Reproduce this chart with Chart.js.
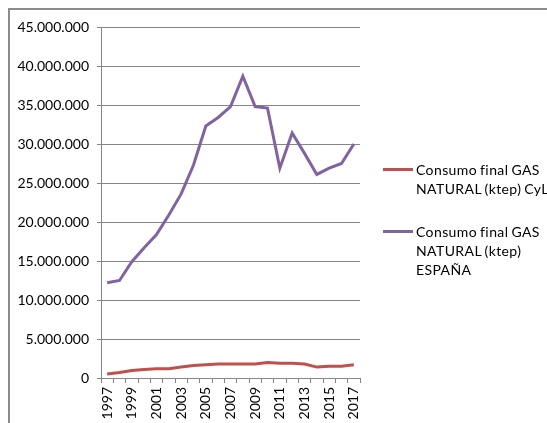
<!DOCTYPE html>
<html lang="es">
<head>
    <meta charset="UTF-8">
    <title>Consumo final gas natural</title>
    <script src="https://cdn.jsdelivr.net/npm/chart.js@4.4.0/dist/chart.umd.min.js"></script>
    <style>
        body { margin: 0; background: #fff; }
        #wrap { position: relative; width: 547px; height: 423px; overflow: hidden; }
        #frame { position: absolute; left: 8px; top: 8px; width: 600px; height: 500px; border: 2px solid #8c8c8c; }
        #grafico { position: absolute; left: 0; top: 0; }
        .leyenda { position: absolute; left: 383px; font-family: Lato, "Open Sans", sans-serif; font-size: 14px; letter-spacing: 0.4px; word-spacing: -1px; line-height: 19px; color: #000; }
        .leyenda .linea { position: absolute; left: 0; top: 8px; width: 30px; height: 3px; }
        .leyenda .txt { position: absolute; left: 33px; white-space: nowrap; }
    </style>
</head>
<body>
<div id="wrap">
    <div id="frame"></div>
    <canvas id="grafico" width="547" height="423"></canvas>
    <div class="leyenda" id="ley1" style="top:160px"><div class="linea"></div><div class="txt"></div></div>
    <div class="leyenda" id="ley2" style="top:222px"><div class="linea"></div><div class="txt"></div></div>
</div>
<script>
    // años
    var anios = ['1997','1998','1999','2000','2001','2002','2003','2004','2005','2006','2007',
                 '2008','2009','2010','2011','2012','2013','2014','2015','2016','2017'];
    // consumo final GAS NATURAL (ktep) CyL
    var cyl = [500000, 700000, 950000, 1100000, 1200000, 1200000, 1400000, 1600000, 1700000, 1800000, 1800000,
               1800000, 1800000, 2000000, 1900000, 1900000, 1800000, 1400000, 1500000, 1500000, 1700000];
    // consumo final GAS NATURAL (ktep) ESPAÑA
    var espana = [12200000, 12500000, 14900000, 16700000, 18400000, 20900000, 23600000, 27300000, 32300000, 33400000, 34800000,
                  38700000, 34800000, 34600000, 26900000, 31400000, 28800000, 26100000, 26900000, 27500000, 30000000];
    var nombres = [['Consumo final GAS', 'NATURAL (ktep) CyL'], ['Consumo final GAS', 'NATURAL (ktep)', 'ESPAÑA']];
    var colores = ['#c0504d', '#8064a2'];

    var fuente = 'Lato, "Open Sans", sans-serif';

    // leyenda en html
    ['ley1','ley2'].forEach(function(id, i){
        var el = document.getElementById(id);
        el.querySelector('.linea').style.background = colores[i];
        el.querySelector('.txt').innerHTML = nombres[i].join('<br>');
    });

    var ctx = document.getElementById('grafico').getContext('2d');
    var chart = new Chart(ctx, {
        type: 'line',
        data: {
            labels: anios,
            datasets: [
                {
                    label: nombres[0].join(' '),
                    data: cyl,
                    borderColor: colores[0],
                    backgroundColor: colores[0],
                    borderWidth: 3,
                    pointRadius: 0,
                    tension: 0,
                    fill: false
                },
                {
                    label: nombres[1].join(' '),
                    data: espana,
                    borderColor: colores[1],
                    backgroundColor: colores[1],
                    borderWidth: 3,
                    pointRadius: 0,
                    tension: 0,
                    fill: false
                }
            ]
        },
        options: {
            responsive: false,
            animation: false,
            layout: { padding: { left: 9, right: 187, top: 27, bottom: 0 } },
            plugins: {
                legend: { display: false },
                tooltip: { enabled: false }
            },
            scales: {
                x: {
                    offset: true,
                    grid: { display: true, drawOnChartArea: false, offset: true, tickLength: 5, color: '#868686' },
                    border: { color: '#868686', width: 1 },
                    ticks: {
                        autoSkip: false,
                        minRotation: 90,
                        maxRotation: 90,
                        padding: 4,
                        color: '#000',
                        font: { family: fuente, size: 14 },
                        callback: function(v, i){ return i % 2 === 0 ? anios[i] : ''; }
                    },
                    afterFit: function(s){ s.height = 45; }
                },
                y: {
                    min: 0,
                    max: 45000000,
                    grid: { color: '#868686', tickLength: 4 },
                    border: { color: '#868686', width: 1 },
                    ticks: {
                        stepSize: 5000000,
                        padding: 8,
                        color: '#000',
                        font: { family: fuente, size: 14 },
                        callback: function(v){ return v.toLocaleString('de-DE'); }
                    },
                    afterFit: function(s){ s.width = 92; }
                }
            }
        }
    });
</script>
</body>
</html>
